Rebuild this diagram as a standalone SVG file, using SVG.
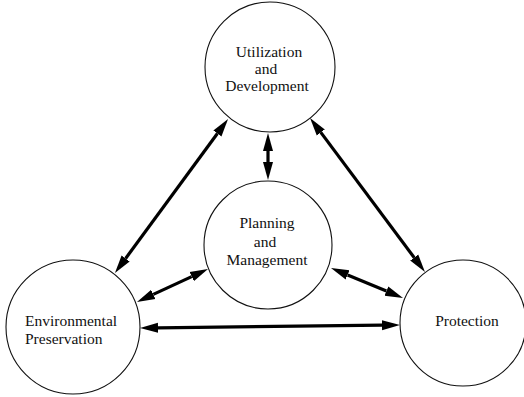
<svg xmlns="http://www.w3.org/2000/svg" width="524" height="397" viewBox="0 0 524 397">
<style>
.node circle{fill:#fff;stroke:#111;stroke-width:1.1}
.node text{font-family:"Liberation Serif","Times New Roman",serif;font-size:15.5px;fill:#111}
.c{text-anchor:middle}
.conn path{stroke:#000;stroke-width:3.2;fill:none;marker-start:url(#ah);marker-end:url(#ah)}
</style>
<defs>
<marker id="ah" markerUnits="userSpaceOnUse" viewBox="0 -6 20 12" refX="0" refY="0" markerWidth="20" markerHeight="12" orient="auto-start-reverse">
<path d="M0,-5 L18,0 L0,5 z" fill="#000"/>
</marker>
</defs>
<rect width="524" height="397" fill="#fff"/>
<g id="util" class="node">
<circle cx="270" cy="67" r="65"/>
<text class="c" x="269" y="57">Utilization</text>
<text class="c" x="266" y="74">and</text>
<text class="c" x="267" y="91">Development</text>
</g>
<g id="plan" class="node">
<circle cx="268" cy="245" r="64"/>
<text class="c" x="267" y="228">Planning</text>
<text class="c" x="265" y="247">and</text>
<text class="c" x="267" y="265">Management</text>
</g>
<g id="env" class="node">
<circle cx="73" cy="327" r="67"/>
<text x="25" y="326">Environmental</text>
<text x="25" y="344">Preservation</text>
</g>
<g id="prot" class="node">
<circle cx="463" cy="323" r="63"/>
<text class="c" x="467" y="326">Protection</text>
</g>
<g id="connectors" class="conn">
<path d="M125.6,258.5 L217.4,133.5"/>
<path d="M320.8,132.4 L414.2,257.6"/>
<path d="M268,151 L268,162"/>
<path d="M191.7,276.6 L153.3,294.4"/>
<path d="M347.6,274.9 L386.4,291.1"/>
<path d="M158,327.8 L382,325.2"/>
</g>
</svg>
